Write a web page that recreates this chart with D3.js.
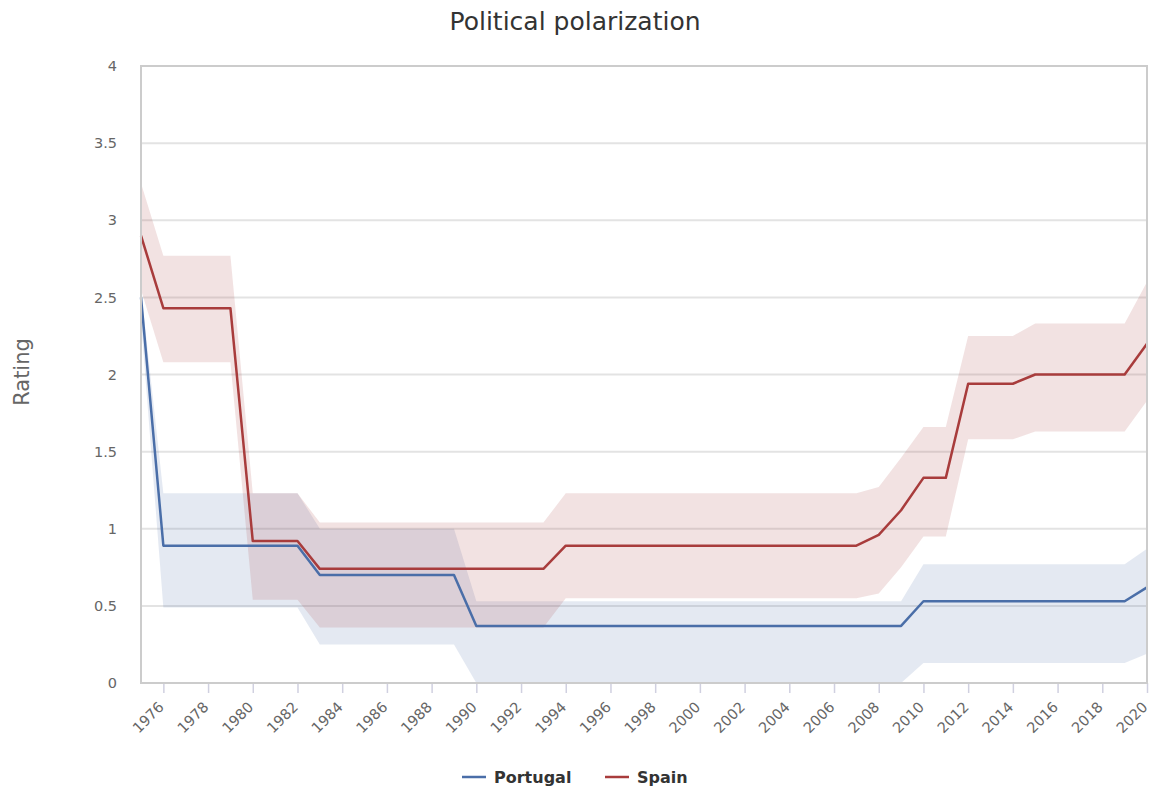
<!DOCTYPE html>
<html>
<head>
<meta charset="utf-8">
<script src="https://cdn.jsdelivr.net/npm/d3@7"></script>
<style>
  html, body { margin: 0; padding: 0; background: #fff; }
  svg { display: block; font-family: "DejaVu Sans", Verdana, sans-serif; }
</style>
</head>
<body>
<svg id="chart" width="1152" height="789"></svg>
<script>
// Years covered by the series
const years = d3.range(1975, 2021);

// Portugal: rating and its confidence range
const portugalRating = [
  2.50,
  0.89, 0.89, 0.89, 0.89, 0.89, 0.89, 0.89,
  0.70, 0.70, 0.70, 0.70, 0.70, 0.70, 0.70,
  0.37, 0.37, 0.37, 0.37, 0.37, 0.37, 0.37, 0.37, 0.37, 0.37,
  0.37, 0.37, 0.37, 0.37, 0.37, 0.37, 0.37, 0.37, 0.37, 0.37,
  0.53, 0.53, 0.53, 0.53, 0.53, 0.53, 0.53, 0.53, 0.53, 0.53,
  0.62
];
const portugalHigh = [
  2.55,
  1.23, 1.23, 1.23, 1.23, 1.23, 1.23, 1.23,
  1.00, 1.00, 1.00, 1.00, 1.00, 1.00, 1.00,
  0.53, 0.53, 0.53, 0.53, 0.53, 0.53, 0.53, 0.53, 0.53, 0.53,
  0.53, 0.53, 0.53, 0.53, 0.53, 0.53, 0.53, 0.53, 0.53, 0.53,
  0.77, 0.77, 0.77, 0.77, 0.77, 0.77, 0.77, 0.77, 0.77, 0.77,
  0.87
];
const portugalLow = [
  2.35,
  0.49, 0.49, 0.49, 0.49, 0.49, 0.49, 0.49,
  0.25, 0.25, 0.25, 0.25, 0.25, 0.25, 0.25,
  0.00, 0.00, 0.00, 0.00, 0.00, 0.00, 0.00, 0.00, 0.00, 0.00,
  0.00, 0.00, 0.00, 0.00, 0.00, 0.00, 0.00, 0.00, 0.00, 0.00,
  0.13, 0.13, 0.13, 0.13, 0.13, 0.13, 0.13, 0.13, 0.13, 0.13,
  0.19
];

// Spain: rating and its confidence range
const spainRating = [
  2.90,
  2.43, 2.43, 2.43, 2.43,
  0.92, 0.92, 0.92,
  0.74, 0.74, 0.74, 0.74, 0.74, 0.74, 0.74, 0.74, 0.74, 0.74, 0.74,
  0.89, 0.89, 0.89, 0.89, 0.89, 0.89, 0.89, 0.89, 0.89, 0.89, 0.89, 0.89, 0.89, 0.89,
  0.96, 1.12, 1.33, 1.33,
  1.94, 1.94, 1.94,
  2.00, 2.00, 2.00, 2.00, 2.00,
  2.20
];
const spainHigh = [
  3.24,
  2.77, 2.77, 2.77, 2.77,
  1.23, 1.23, 1.23,
  1.04, 1.04, 1.04, 1.04, 1.04, 1.04, 1.04, 1.04, 1.04, 1.04, 1.04,
  1.23, 1.23, 1.23, 1.23, 1.23, 1.23, 1.23, 1.23, 1.23, 1.23, 1.23, 1.23, 1.23, 1.23,
  1.27, 1.46, 1.66, 1.66,
  2.25, 2.25, 2.25,
  2.33, 2.33, 2.33, 2.33, 2.33,
  2.60
];
const spainLow = [
  2.55,
  2.08, 2.08, 2.08, 2.08,
  0.54, 0.54, 0.54,
  0.36, 0.36, 0.36, 0.36, 0.36, 0.36, 0.36, 0.36, 0.36, 0.36, 0.36,
  0.55, 0.55, 0.55, 0.55, 0.55, 0.55, 0.55, 0.55, 0.55, 0.55, 0.55, 0.55, 0.55, 0.55,
  0.58, 0.75, 0.95, 0.95,
  1.58, 1.58, 1.58,
  1.63, 1.63, 1.63, 1.63, 1.63,
  1.83
];

const yTicks = [0, 0.5, 1, 1.5, 2, 2.5, 3, 3.5, 4];
const xTicks = d3.range(1976, 2021, 2);

const seriesList = [
  { name: "Portugal", color: "#4a6ea8", rating: portugalRating, high: portugalHigh, low: portugalLow },
  { name: "Spain", color: "#a83c3c", rating: spainRating, high: spainHigh, low: spainLow }
];

const svg = d3.select("#chart");
const plot = { left: 141, right: 1147, top: 66, bottom: 683 };

const x = d3.scaleLinear().domain([1975, 2020]).range([plot.left, plot.right]);
const y = d3.scaleLinear().domain([0, 4]).range([plot.bottom, plot.top]);

// Title
svg.append("text")
  .attr("x", 575).attr("y", 30)
  .attr("text-anchor", "middle")
  .attr("font-size", 25)
  .attr("fill", "#333")
  .text("Political polarization");

// Horizontal grid lines
svg.append("g")
  .selectAll("line")
  .data(yTicks.filter(t => t > 0 && t < 4))
  .join("line")
  .attr("x1", plot.left).attr("x2", plot.right)
  .attr("y1", d => y(d)).attr("y2", d => y(d))
  .attr("stroke", "#e3e3e3")
  .attr("stroke-width", 2);

// Y axis labels
const yAxis = d3.axisLeft(y).tickValues(yTicks).tickSize(0).tickPadding(24)
  .tickFormat(d3.format("~g"));
svg.append("g")
  .attr("transform", `translate(${plot.left},0)`)
  .call(yAxis)
  .call(g => g.select(".domain").remove())
  .call(g => g.selectAll("text")
    .attr("font-family", "DejaVu Sans, sans-serif")
    .attr("font-size", 14.5)
    .attr("fill", "#666"));

// X axis: ticks and rotated labels
const xAxis = d3.axisBottom(x).tickValues(xTicks).tickSize(10).tickFormat(d3.format("d"));
svg.append("g")
  .attr("transform", `translate(0,${plot.bottom})`)
  .call(xAxis)
  .call(g => g.select(".domain").remove())
  .call(g => g.selectAll(".tick line").attr("stroke", "#d0d0e0").attr("stroke-width", 1.5))
  .call(g => g.selectAll("text")
    .attr("font-family", "DejaVu Sans, sans-serif")
    .attr("font-size", 14.5)
    .attr("fill", "#666")
    .attr("text-anchor", "end")
    .attr("dy", null)
    .attr("y", 0)
    .attr("transform", "translate(1,25) rotate(-45)"));

// Axis title
svg.append("text")
  .attr("transform", "translate(29,372) rotate(-90)")
  .attr("text-anchor", "middle")
  .attr("font-size", 21)
  .attr("fill", "#666")
  .text("Rating");

// Confidence bands
const band = d3.area()
  .x(d => x(d.year))
  .y0(d => y(d.low))
  .y1(d => y(d.high));

const line = d3.line()
  .x(d => x(d.year))
  .y(d => y(d.value));

const bandLayer = svg.append("g");
const lineLayer = svg.append("g");

seriesList.forEach(s => {
  const rows = years.map((yr, i) => ({ year: yr, value: s.rating[i], high: s.high[i], low: s.low[i] }));
  bandLayer.append("path")
    .datum(rows)
    .attr("d", band)
    .attr("fill", s.color)
    .attr("fill-opacity", 0.15);
  lineLayer.append("path")
    .datum(rows)
    .attr("d", line)
    .attr("fill", "none")
    .attr("stroke", s.color)
    .attr("stroke-width", 2.5)
    .attr("stroke-linejoin", "round");
});

// Plot frame
svg.append("rect")
  .attr("x", plot.left).attr("y", plot.top)
  .attr("width", plot.right - plot.left)
  .attr("height", plot.bottom - plot.top)
  .attr("fill", "none")
  .attr("stroke", "#cccccc")
  .attr("stroke-width", 2);

// Legend
const legend = svg.append("g").attr("transform", "translate(462,777)");
const legendItems = [
  { name: "Portugal", color: seriesList[0].color, dx: 0 },
  { name: "Spain", color: seriesList[1].color, dx: 143 }
];
legendItems.forEach(it => {
  const g = legend.append("g").attr("transform", `translate(${it.dx},0)`);
  g.append("line").attr("x1", 0).attr("x2", 24).attr("y1", 0).attr("y2", 0)
    .attr("stroke", it.color).attr("stroke-width", 2.5);
  g.append("text").attr("x", 32).attr("y", 6)
    .attr("font-size", 16).attr("font-weight", "bold").attr("fill", "#333")
    .text(it.name);
});
</script>
</body>
</html>
